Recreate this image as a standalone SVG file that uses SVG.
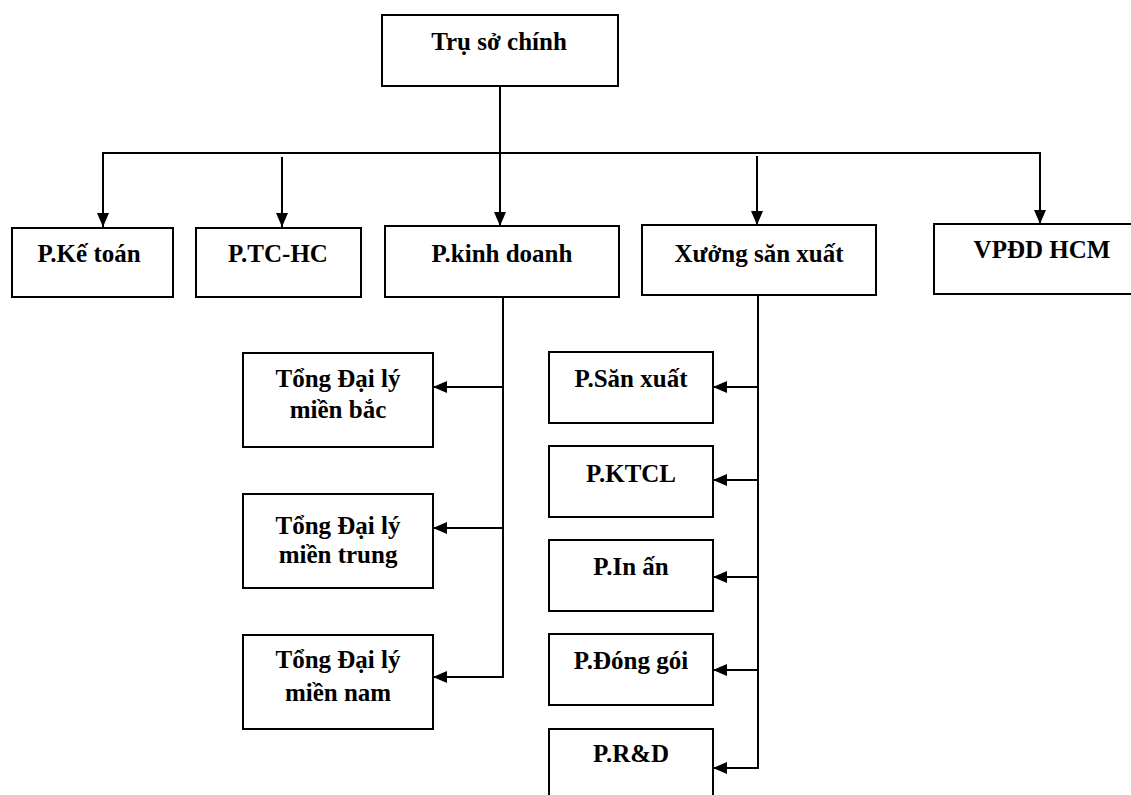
<svg xmlns="http://www.w3.org/2000/svg" width="1131" height="795" viewBox="0 0 1131 795">
<style>
.box{fill:#fff;stroke:#000;stroke-width:2}
.t{font-family:"Liberation Serif","Times New Roman",serif;font-weight:bold;font-size:25px;fill:#000;text-anchor:middle}
.c{fill:none;stroke:#000;stroke-width:2}
</style>
<defs>
<marker id="ah" viewBox="0 0 14 12" refX="14" refY="6" markerWidth="14" markerHeight="12" markerUnits="userSpaceOnUse" orient="auto">
<path d="M0,0 L14,6 L0,12 z" fill="#000"/>
</marker>
</defs>
<rect width="1131" height="795" fill="#fff"/>
<g id="connectors">
<line class="c" x1="500" y1="86" x2="500" y2="226" marker-end="url(#ah)"/>
<polyline class="c" points="103,226 103,153 1040,153 1040,224" marker-end="url(#ah)"/>
<line class="c" x1="103" y1="153" x2="103" y2="227" marker-end="url(#ah)"/>
<line class="c" x1="282" y1="157" x2="282" y2="227" marker-end="url(#ah)"/>
<line class="c" x1="757" y1="156" x2="757" y2="225" marker-end="url(#ah)"/>
<line class="c" x1="503" y1="297" x2="503" y2="677"/>
<line class="c" x1="503" y1="387" x2="433" y2="387" marker-end="url(#ah)"/>
<line class="c" x1="503" y1="528" x2="433" y2="528" marker-end="url(#ah)"/>
<line class="c" x1="504" y1="677" x2="433" y2="677" marker-end="url(#ah)"/>
<line class="c" x1="758" y1="295" x2="758" y2="768"/>
<line class="c" x1="758" y1="387" x2="713" y2="387" marker-end="url(#ah)"/>
<line class="c" x1="758" y1="480" x2="713" y2="480" marker-end="url(#ah)"/>
<line class="c" x1="758" y1="577" x2="713" y2="577" marker-end="url(#ah)"/>
<line class="c" x1="758" y1="670" x2="713" y2="670" marker-end="url(#ah)"/>
<line class="c" x1="759" y1="768" x2="713" y2="768" marker-end="url(#ah)"/>
</g>
<g id="tru-so-chinh"><rect class="box" x="382" y="15" width="236" height="71"/><text class="t" x="499" y="50">Trụ sở chính</text></g>
<g id="p-ke-toan"><rect class="box" x="12" y="228" width="161" height="69"/><text class="t" x="89" y="262">P.Kế toán</text></g>
<g id="p-tc-hc"><rect class="box" x="196" y="228" width="165" height="69"/><text class="t" x="278" y="262">P.TC-HC</text></g>
<g id="p-kinh-doanh"><rect class="box" x="385" y="226" width="234" height="71"/><text class="t" x="502" y="262">P.kinh doanh</text></g>
<g id="xuong-san-xuat"><rect class="box" x="642" y="225" width="234" height="70"/><text class="t" x="759" y="262">Xưởng săn xuất</text></g>
<g id="vpdd-hcm"><rect class="box" x="934" y="224" width="200" height="70"/><text class="t" x="1042" y="258">VPĐD HCM</text></g>
<g id="tdl-bac"><rect class="box" x="243" y="353" width="190" height="94"/><text class="t" x="338" y="387">Tổng Đại lý</text><text class="t" x="338" y="418">miền bắc</text></g>
<g id="tdl-trung"><rect class="box" x="243" y="494" width="190" height="94"/><text class="t" x="338" y="534">Tổng Đại lý</text><text class="t" x="338" y="563">miền trung</text></g>
<g id="tdl-nam"><rect class="box" x="243" y="635" width="190" height="94"/><text class="t" x="338" y="668">Tổng Đại lý</text><text class="t" x="338" y="701">miền nam</text></g>
<g id="p-san-xuat"><rect class="box" x="549" y="352" width="164" height="71"/><text class="t" x="631" y="387">P.Săn xuất</text></g>
<g id="p-ktcl"><rect class="box" x="549" y="446" width="164" height="71"/><text class="t" x="631" y="482">P.KTCL</text></g>
<g id="p-in-an"><rect class="box" x="549" y="540" width="164" height="71"/><text class="t" x="631" y="575">P.In ấn</text></g>
<g id="p-dong-goi"><rect class="box" x="549" y="634" width="164" height="71"/><text class="t" x="631" y="669">P.Đóng gói</text></g>
<g id="p-rd"><rect class="box" x="549" y="729" width="164" height="80"/><text class="t" x="631" y="762">P.R&amp;D</text></g>
</svg>
